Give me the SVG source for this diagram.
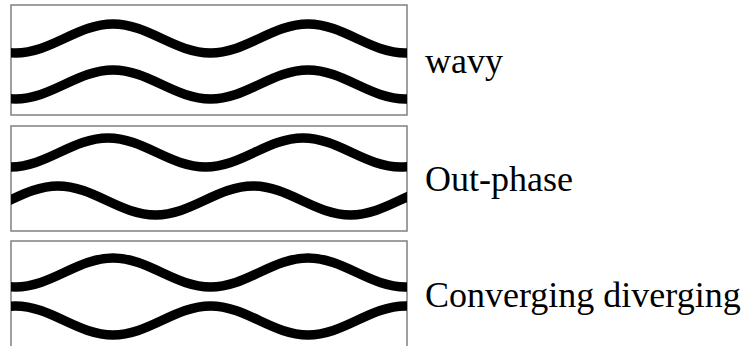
<svg xmlns="http://www.w3.org/2000/svg" xmlns:xlink="http://www.w3.org/1999/xlink" width="746" height="346" viewBox="0 0 746 346">
<style>
.frame{fill:#fff;stroke:#808080;stroke-width:1.5}
.wave{fill:none;stroke:#000;stroke-width:9.5}
.lbl{font-family:"Liberation Serif","Times New Roman",serif;font-size:36px;fill:#000}
</style>
<defs>
<path id="w" class="wave" d="M -82 24 C -46.5 24 -20 53 15.5 53 C 51 53 77.5 24 113 24 C 148.5 24 175 53 210.5 53 C 246 53 272.5 24 308 24 C 343.5 24 370 53 405.5 53 C 441 53 467.5 24 503 24"/>
<clipPath id="c1"><rect x="11" y="5" width="396" height="110"/></clipPath>
<clipPath id="c2"><rect x="11" y="126" width="396" height="105"/></clipPath>
<clipPath id="c3"><rect x="11" y="241" width="396" height="110"/></clipPath>
</defs>
<rect width="746" height="346" fill="#fff"/>
<g id="wavy">
<rect class="frame" x="11" y="5" width="396" height="110"/>
<g clip-path="url(#c1)">
<use xlink:href="#w" href="#w"/>
<use xlink:href="#w" href="#w" transform="translate(0,46)"/>
</g>
<text class="lbl" x="425" y="73">wavy</text>
</g>
<g id="out-phase">
<rect class="frame" x="11" y="126" width="396" height="105"/>
<g clip-path="url(#c2)">
<use xlink:href="#w" href="#w" transform="translate(-5,114)"/>
<use xlink:href="#w" href="#w" transform="translate(-55,162)"/>
</g>
<text class="lbl" x="425" y="191">Out-phase</text>
</g>
<g id="converging-diverging">
<rect class="frame" x="11" y="241" width="396" height="110"/>
<g clip-path="url(#c3)">
<use xlink:href="#w" href="#w" transform="translate(0,234)"/>
<use xlink:href="#w" href="#w" transform="translate(0,359) scale(1,-1)"/>
</g>
<text class="lbl" x="425" y="307">Converging diverging</text>
</g>
<g id="connectors"/>
</svg>
